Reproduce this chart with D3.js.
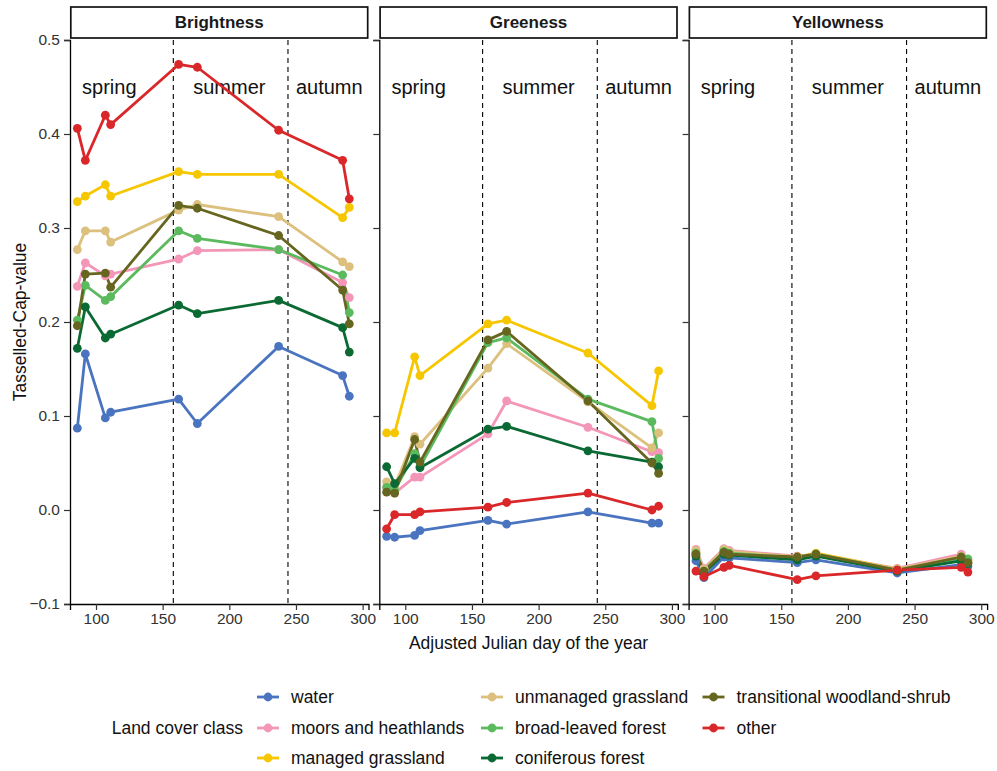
<!DOCTYPE html>
<html>
<head>
<meta charset="utf-8">
<script src="https://cdn.jsdelivr.net/npm/d3@7/dist/d3.min.js"></script>
<style>
  html, body { margin: 0; padding: 0; background: #fff; }
  svg { display: block; font-family: "Liberation Sans", Arial, Helvetica, sans-serif; }
</style>
</head>
<body>
<svg id="chart" width="997" height="771"></svg>
<script>
// Acquisition days (adjusted Julian day of the year)
const days = [86, 92, 107, 111, 162, 176, 237, 285, 290];

// Land cover classes, in plotting order
const classes = [
  "water", "moors and heathlands", "managed grassland", "unmanaged grassland",
  "broad-leaved forest", "coniferous forest", "transitional woodland-shrub", "other"
];
const classColors = [
  "#4a74bf", "#f396b8", "#f6c700", "#dcc07e",
  "#5cba5e", "#0b6a34", "#666620", "#d9272a"
];

// Tasselled Cap components (facet panels)
const panels = ["Brightness", "Greeness", "Yellowness"];

// Mean Tasselled-Cap values per class (rows follow `classes`, columns follow `days`)
const brightness = [
  [0.087, 0.166, 0.098, 0.104, 0.118, 0.092, 0.174, 0.143, 0.121],
  [0.238, 0.263, 0.249, 0.251, 0.267, 0.276, 0.277, 0.242, 0.226],
  [0.328, 0.334, 0.346, 0.334, 0.360, 0.357, 0.357, 0.311, 0.322],
  [0.277, 0.297, 0.297, 0.285, 0.319, 0.325, 0.312, 0.264, 0.259],
  [0.202, 0.239, 0.223, 0.227, 0.297, 0.289, 0.277, 0.250, 0.210],
  [0.172, 0.216, 0.183, 0.187, 0.218, 0.209, 0.223, 0.194, 0.168],
  [0.196, 0.251, 0.252, 0.237, 0.324, 0.321, 0.292, 0.234, 0.198],
  [0.406, 0.372, 0.420, 0.410, 0.474, 0.471, 0.404, 0.372, 0.331]
];
const greeness = [
  [-0.028, -0.029, -0.027, -0.022, -0.011, -0.015, -0.002, -0.014, -0.014],
  [0.024, 0.018, 0.035, 0.035, 0.081, 0.116, 0.088, 0.062, 0.061],
  [0.082, 0.082, 0.163, 0.143, 0.198, 0.202, 0.167, 0.111, 0.148],
  [0.030, 0.025, 0.078, 0.070, 0.151, 0.177, 0.115, 0.066, 0.082],
  [0.024, 0.021, 0.060, 0.046, 0.178, 0.183, 0.118, 0.094, 0.055],
  [0.046, 0.028, 0.055, 0.045, 0.086, 0.089, 0.063, 0.051, 0.046],
  [0.019, 0.018, 0.075, 0.051, 0.181, 0.190, 0.116, 0.050, 0.039],
  [-0.020, -0.005, -0.005, -0.002, 0.003, 0.008, 0.018, 0.000, 0.004]
];
const yellowness = [
  [-0.054, -0.072, -0.050, -0.051, -0.056, -0.053, -0.067, -0.058, -0.060],
  [-0.042, -0.062, -0.041, -0.043, -0.049, -0.047, -0.062, -0.047, -0.053],
  [-0.045, -0.064, -0.043, -0.045, -0.050, -0.046, -0.063, -0.051, -0.055],
  [-0.043, -0.063, -0.042, -0.044, -0.050, -0.047, -0.063, -0.049, -0.054],
  [-0.046, -0.065, -0.044, -0.046, -0.051, -0.047, -0.064, -0.052, -0.052],
  [-0.049, -0.067, -0.047, -0.048, -0.053, -0.049, -0.065, -0.054, -0.057],
  [-0.047, -0.065, -0.045, -0.047, -0.050, -0.047, -0.064, -0.050, -0.056],
  [-0.065, -0.071, -0.061, -0.059, -0.074, -0.070, -0.064, -0.061, -0.066]
];
const panelValues = [brightness, greeness, yellowness];

// Season boundaries and labels
const seasonBreaks = [158, 244];
const seasonNames = ["spring", "summer", "autumn"];
const seasonDays = [110, 200, 275];
const seasonLevel = 0.45;

// Axis ticks
const xTicks = [100, 150, 200, 250, 300];
const yTicks = [-0.1, 0.0, 0.1, 0.2, 0.3, 0.4, 0.5];

// ---- layout ----
const svg = d3.select("#chart");
const panelW = 298.5, panelStep = 309.3, firstLeft = 70;
const plotTop = 40, plotBottom = 604;
const stripTop = 7, stripH = 31;
const lineWidth = 2.8, pointRadius = 4.4;

const y = d3.scaleLinear().domain([-0.1, 0.5]).range([plotBottom, plotTop]);
const x = d3.scaleLinear().domain([80.5, 304.4]).range([0, panelW]);

const tickColor = "#333";

panels.forEach((name, p) => {
  const g = svg.append("g").attr("transform", `translate(${firstLeft + p * panelStep},0)`);

  // strip
  g.append("rect")
    .attr("x", 0.8).attr("y", stripTop)
    .attr("width", panelW - 1.6).attr("height", stripH)
    .attr("fill", "#fff").attr("stroke", "#111").attr("stroke-width", 1.7);
  g.append("text")
    .attr("x", panelW / 2).attr("y", stripTop + stripH / 2)
    .attr("text-anchor", "middle").attr("dominant-baseline", "central")
    .attr("font-weight", "bold").attr("font-size", 17).attr("fill", "#1a1a1a")
    .text(name);

  // season boundaries
  g.selectAll("line.season").data(seasonBreaks).join("line")
    .attr("class", "season")
    .attr("x1", d => x(d)).attr("x2", d => x(d))
    .attr("y1", plotTop).attr("y2", plotBottom)
    .attr("stroke", "#000").attr("stroke-width", 1.1)
    .attr("stroke-dasharray", "5,4");

  // season labels
  g.selectAll("text.season").data(seasonNames).join("text")
    .attr("class", "season")
    .attr("x", (d, i) => x(seasonDays[i])).attr("y", y(seasonLevel))
    .attr("text-anchor", "middle").attr("dominant-baseline", "central")
    .attr("font-size", 20).attr("fill", "#111")
    .text(d => d);

  // x axis
  const xa = d3.axisBottom(x).tickValues(xTicks).tickSize(6).tickPadding(3);
  const gx = g.append("g").attr("transform", `translate(0,${plotBottom})`).call(xa);
  gx.select(".domain").attr("stroke", "#000").attr("stroke-width", 1.3);
  gx.selectAll(".tick line").attr("stroke", tickColor).attr("stroke-width", 1.2);
  gx.selectAll(".tick text").attr("font-size", 15.5).attr("fill", "#333")
    .attr("font-family", "Liberation Sans, Arial, sans-serif");

  // y axis (labels only on the first panel)
  const ya = d3.axisLeft(y).tickValues(yTicks).tickSize(6).tickPadding(4)
    .tickFormat(p === 0 ? d3.format(".1f") : () => "");
  const gy = g.append("g").call(ya);
  gy.select(".domain").attr("stroke", "#000").attr("stroke-width", 1.3);
  gy.selectAll(".tick line").attr("stroke", tickColor).attr("stroke-width", 1.2);
  gy.selectAll(".tick text").attr("font-size", 15.5).attr("fill", "#333")
    .attr("font-family", "Liberation Sans, Arial, sans-serif");

  const values = panelValues[p];
  const line = d3.line().x((d, i) => x(days[i])).y(d => y(d));

  // lines first, then points, in class order
  g.append("g").selectAll("path").data(values).join("path")
    .attr("d", line)
    .attr("fill", "none")
    .attr("stroke", (d, i) => classColors[i])
    .attr("stroke-width", lineWidth)
    .attr("stroke-linejoin", "round");

  values.forEach((series, c) => {
    g.append("g").selectAll("circle").data(series).join("circle")
      .attr("cx", (d, i) => x(days[i]))
      .attr("cy", d => y(d))
      .attr("r", pointRadius)
      .attr("fill", classColors[c]);
  });
});

// axis titles
const plotsLeft = firstLeft, plotsRight = firstLeft + 2 * panelStep + panelW;
svg.append("text")
  .attr("x", (plotsLeft + plotsRight) / 2).attr("y", 649)
  .attr("text-anchor", "middle").attr("font-size", 17.5).attr("fill", "#111")
  .text("Adjusted Julian day of the year");
svg.append("text")
  .attr("transform", `translate(26,${(plotTop + plotBottom) / 2}) rotate(-90)`)
  .attr("text-anchor", "middle").attr("font-size", 17.5).attr("fill", "#111")
  .text("Tasselled-Cap-value");

// legend (three rows, filled column by column)
const legendRows = [697, 728, 758];
const legendCols = [268, 492, 713.5];
const legendLabelOffset = 23;
const lg = svg.append("g");
lg.append("text")
  .attr("x", 243).attr("y", legendRows[1])
  .attr("text-anchor", "end").attr("dominant-baseline", "central")
  .attr("font-size", 17.5).attr("fill", "#111")
  .text("Land cover class");

classes.forEach((cls, i) => {
  const col = Math.floor(i / 3), row = i % 3;
  const cx = legendCols[col], cy = legendRows[row];
  const item = lg.append("g");
  item.append("line")
    .attr("x1", cx - 11).attr("x2", cx + 11).attr("y1", cy).attr("y2", cy)
    .attr("stroke", classColors[i]).attr("stroke-width", lineWidth);
  item.append("circle").attr("cx", cx).attr("cy", cy).attr("r", pointRadius).attr("fill", classColors[i]);
  item.append("text")
    .attr("x", cx + legendLabelOffset).attr("y", cy)
    .attr("dominant-baseline", "central")
    .attr("font-size", 17.5).attr("fill", "#111")
    .text(cls);
});
</script>
</body>
</html>
